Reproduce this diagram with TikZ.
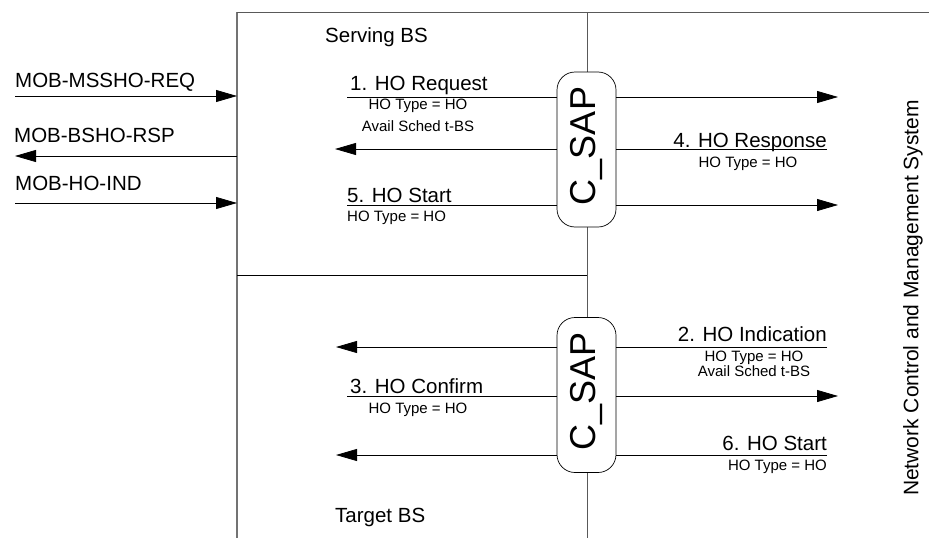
\documentclass[tikz,border=0pt]{standalone}
\usepackage{fontspec}
\setmainfont{Liberation Sans}
\usetikzlibrary{arrows.meta}
\begin{document}
\begin{tikzpicture}[x=1pt,y=-1pt,
  big/.style={font=\fontsize{20.5}{24}\selectfont, inner sep=0pt},
  small/.style={font=\fontsize{15}{18}\selectfont, inner sep=0pt},
  msg/.style={line width=0.8pt},
  arr/.style={line width=0.8pt, -{Triangle[length=21pt,width=12pt]}},
  sap/.style={draw, line width=0.7pt, fill=white, rounded corners=18pt,
    minimum width=59pt, minimum height=155pt, inner sep=0pt},
  frameline/.style={draw=black!55, line width=1.8pt},
  midline/.style={draw=black!65, line width=1pt},
  divline/.style={draw=black, line width=1pt}
]
\useasboundingbox (0,0) rectangle (929,538);

% frame
\coordinate (boxTL) at (237,12);
\coordinate (boxBL) at (237,538);
\coordinate (midT) at (587,12);
\coordinate (midB) at (587,538);
\coordinate (topR) at (929,12);
\coordinate (divL) at (237,275);
\draw[frameline] (boxBL) -- (boxTL);
\draw[midline] (boxTL) -- (topR);
\draw[midline] (midT) -- (midB);
\draw[divline] (divL) -- (divL -| midT);

% titles
\node[big, anchor=base west] (serving) at (325,42) {Serving BS};
\node[big, anchor=base west] (target) at (335,522) {Target BS};
\node[font=\fontsize{21}{24}\selectfont, inner sep=0pt, rotate=90] (ncms) at (913,298) {Network Control and Management System};

% left MS messages
\coordinate (m1) at (15,96);
\coordinate (m2) at (15,156);
\coordinate (m3) at (15,203);
\node[big, anchor=base west] (t1) at (15,87) {MOB-MSSHO-REQ};
\node[big, anchor=base west] (t2) at (14,142) {MOB-BSHO-RSP};
\node[big, anchor=base west] (t3) at (15,190) {MOB-HO-IND};
\draw[arr] (m1) -- (boxTL |- m1);
\draw[arr] (boxTL |- m2) -- (m2);
\draw[arr] (m3) -- (boxTL |- m3);

% SAP nodes
\node[sap] (sapA) at (586.5,149.5) {};
\node[font=\fontsize{36}{40}\selectfont, rotate=90, inner sep=0pt] (sapAt) at (587,146) {C\_SAP};
\node[sap] (sapB) at (586.5,395) {};
\node[font=\fontsize{36}{40}\selectfont, rotate=90, inner sep=0pt] (sapBt) at (587,391) {C\_SAP};

% upper messages
\coordinate (a1) at (347,97);
\coordinate (r1) at (838,97);
\draw[msg] (a1) -- (a1 -| sapA.west);
\draw[arr] (a1 -| sapA.east) -- (r1);
\node[big, anchor=base west] (l1) at (350,90) {1. HO Request};
\node[font=\fontsize{15}{22}\selectfont, inner sep=0pt, align=center, anchor=base] (l1a) at (418,131) {HO Type = HO\\Avail Sched t-BS};

\coordinate (a4) at (335,149);
\coordinate (r4) at (827,149);
\draw[msg] (r4) -- (r4 -| sapA.east);
\draw[arr] (r4 -| sapA.west) -- (a4);
\node[big, anchor=base east] (l4) at (827,147) {4. HO Response};
\node[small, anchor=base] (l4a) at (748,167) {HO Type = HO};

\coordinate (a5) at (347,205);
\coordinate (r5) at (838,205);
\draw[msg] (a5) -- (a5 -| sapA.west);
\draw[arr] (a5 -| sapA.east) -- (r5);
\node[big, anchor=base west] (l5) at (347,202) {5. HO Start};
\node[small, anchor=base west] (l5a) at (347,221) {HO Type = HO};

% lower messages
\coordinate (a2) at (336,347);
\coordinate (r2) at (827,347);
\draw[msg] (r2) -- (r2 -| sapB.east);
\draw[arr] (r2 -| sapB.west) -- (a2);
\node[big, anchor=base east] (l2) at (827,341) {2. HO Indication};
\node[font=\fontsize{15}{14.5}\selectfont, inner sep=0pt, align=center, anchor=base] (l2a) at (754,376) {HO Type = HO\\Avail Sched t-BS};

\coordinate (a3) at (347,396);
\coordinate (r3) at (838,396);
\draw[msg] (a3) -- (a3 -| sapB.west);
\draw[arr] (a3 -| sapB.east) -- (r3);
\node[big, anchor=base west] (l3) at (350,393) {3. HO Confirm};
\node[small, anchor=base] (l3a) at (418,413) {HO Type = HO};

\coordinate (a6) at (336,455);
\coordinate (r6) at (827,455);
\draw[msg] (r6) -- (r6 -| sapB.east);
\draw[arr] (r6 -| sapB.west) -- (a6);
\node[big, anchor=base east] (l6) at (827,450) {6. HO Start};
\node[small, anchor=base east] (l6a) at (827,470) {HO Type = HO};
\end{tikzpicture}
\end{document}
